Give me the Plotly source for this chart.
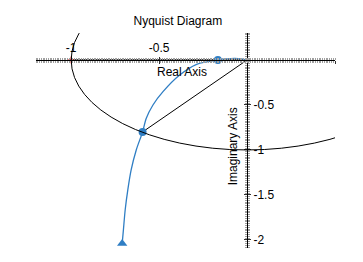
import plotly.graph_objects as go

# Nyquist curve points
re_vals = [0.0, -0.03, -0.07, -0.12, -0.166, -0.23, -0.287, -0.383, -0.478, -0.535,
           -0.573, -0.594, -0.63, -0.659, -0.678, -0.693, -0.703, -0.710]
im_vals = [0.0, 0.012, 0.018, 0.012, 0.0, -0.02, -0.048, -0.167, -0.352, -0.5,
           -0.648, -0.8, -1.0, -1.222, -1.444, -1.667, -1.889, -2.04]

phase_cross = (-0.166, 0.0)
gain_cross = (-0.594, -0.8)
end_pt = (-0.710, -2.04)
critical = (-1.0, 0.0)

x_ticks = [-1, -0.5]
x_ticktext = ["-1", "-0.5"]
y_ticks = [-0.5, -1, -1.5, -2]
y_ticktext = ["-0.5", "-1", "-1.5", "-2"]

XR = [-1.2, 0.5]
YR = [-2.09, 0.3]
xpos = (0 - XR[0]) / (XR[1] - XR[0])
ypos = (0 - YR[0]) / (YR[1] - YR[0])

BLUE = "#2F7EC4"

fig = go.Figure()

# black guide lines
fig.add_trace(go.Scatter(x=[critical[0], 0], y=[critical[1], 0], mode="lines",
                         line=dict(color="black", width=1.4), hoverinfo="skip"))
fig.add_trace(go.Scatter(x=[0, gain_cross[0]], y=[0, gain_cross[1]], mode="lines",
                         line=dict(color="black", width=1), hoverinfo="skip"))
# Nyquist curve
fig.add_trace(go.Scatter(x=re_vals, y=im_vals, mode="lines",
                         line=dict(color=BLUE, width=1.3, shape="spline", smoothing=0.8),
                         hoverinfo="skip"))
fig.add_trace(go.Scatter(x=[phase_cross[0], gain_cross[0]], y=[phase_cross[1], gain_cross[1]],
                         mode="markers", marker=dict(color=BLUE, size=8, symbol="circle"),
                         hoverinfo="skip"))
fig.add_trace(go.Scatter(x=[end_pt[0]], y=[end_pt[1]], mode="markers",
                         marker=dict(color=BLUE, size=9, symbol="triangle-up"),
                         hoverinfo="skip"))
fig.add_trace(go.Scatter(x=[critical[0]], y=[critical[1]], mode="markers",
                         marker=dict(color="red", size=5, symbol="cross-thin",
                                     line=dict(color="red", width=1)),
                         hoverinfo="skip"))
# empty traces to activate overlay axes
fig.add_trace(go.Scatter(x=[], y=[], xaxis="x2", yaxis="y", hoverinfo="skip"))
fig.add_trace(go.Scatter(x=[], y=[], xaxis="x", yaxis="y2", hoverinfo="skip"))

# unit circle
fig.add_shape(type="circle", xref="x", yref="y", x0=-1, y0=-1, x1=1, y1=1,
              line=dict(color="black", width=1), layer="above")

font = dict(family="Liberation Sans, Arial, sans-serif", size=12, color="black")

common_x = dict(range=XR, showgrid=False, zeroline=False, anchor="free", position=ypos,
                showline=True, linecolor="black", linewidth=1, fixedrange=True)
common_y = dict(range=YR, showgrid=False, zeroline=False, anchor="free", position=xpos,
                showline=True, linecolor="black", linewidth=1, fixedrange=True)

minor_x = dict(dtick=0.01, tick0=0, ticks="outside", ticklen=2, tickcolor="#a0a0a0", tickwidth=1)
minor_y = dict(dtick=0.02, tick0=0, ticks="outside", ticklen=2, tickcolor="#a0a0a0", tickwidth=1)

fig.update_layout(
    width=363, height=262,
    margin=dict(l=36, r=28, t=33, b=14),
    paper_bgcolor="white", plot_bgcolor="white",
    showlegend=False,
    font=font,
    title=dict(text="Nyquist Diagram", x=0.49, xanchor="center", y=1 - 21 / 262,
               yanchor="middle", font=dict(size=12, color="black")),
    xaxis=dict(**common_x, side="top", tickmode="array", tickvals=x_ticks,
               ticktext=x_ticktext, ticks="outside", ticklen=3, tickcolor="#333",
               tickfont=dict(size=12), minor=minor_x),
    xaxis2=dict(**common_x, overlaying="x", side="bottom", showticklabels=False,
                tickmode="array", tickvals=x_ticks + [0.5], ticks="outside", ticklen=3,
                tickcolor="#333", minor=minor_x),
    yaxis=dict(**common_y, side="right", tickmode="array", tickvals=y_ticks,
               ticktext=y_ticktext, ticks="outside", ticklen=3, tickcolor="#333",
               tickfont=dict(size=12), minor=minor_y),
    yaxis2=dict(**common_y, overlaying="y", side="left", showticklabels=False,
                tickmode="array", tickvals=y_ticks, ticks="outside", ticklen=3,
                tickcolor="#333", minor=minor_y),
    annotations=[
        dict(text="Real Axis", x=-0.37, y=-0.133, xref="x", yref="y",
             showarrow=False, font=dict(size=12), xanchor="center", yanchor="middle"),
        dict(text="Imaginary Axis", x=-0.08, y=-0.96, xref="x", yref="y",
             showarrow=False, textangle=-90, font=dict(size=12),
             xanchor="center", yanchor="middle"),
    ],
)

fig.write_html("out.html")
